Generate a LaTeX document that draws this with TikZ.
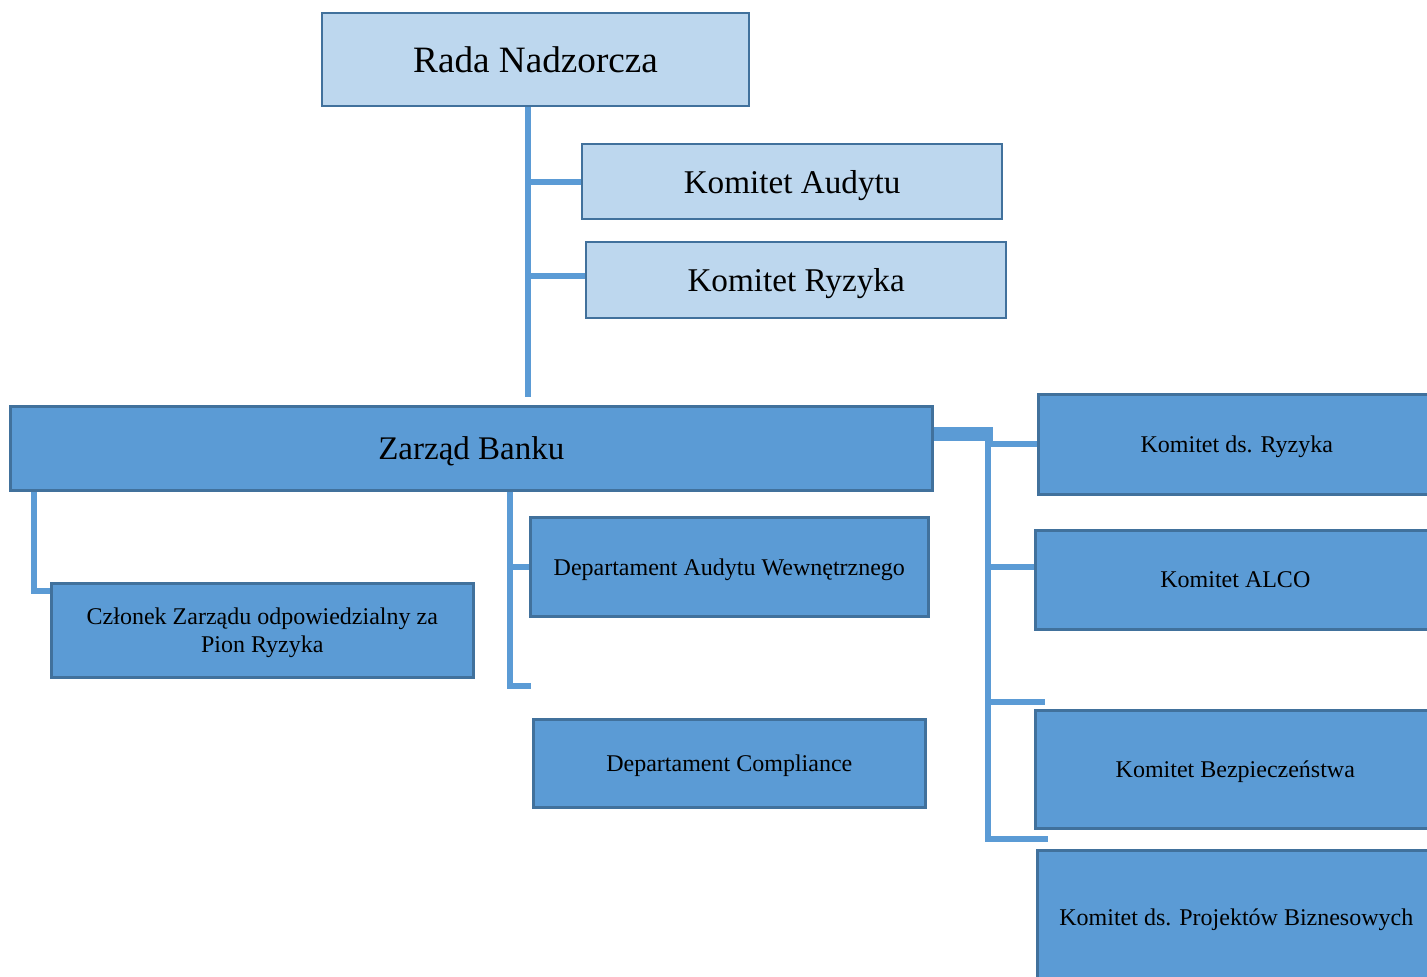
\documentclass[tikz,border=0pt]{standalone}
\usepackage{fontspec}
\setmainfont{Liberation Serif}
\definecolor{jasnyniebieski}{RGB}{189,215,238}
\definecolor{niebieski}{RGB}{91,155,213}
\definecolor{ramka}{RGB}{65,113,156}
\begin{document}
\begin{tikzpicture}[line cap=butt,line join=miter,x=0.5pt,y=-0.5pt,
  jasny/.style={draw=ramka,fill=jasnyniebieski,line width=1.1pt,anchor=north west,inner sep=0pt,align=center,text depth=0pt},
  ciemny/.style={draw=ramka,fill=niebieski,line width=1.3pt,anchor=north west,inner sep=0pt,align=center,text depth=0pt,font=\fontsize{12}{14}\selectfont},
  linia/.style={draw=niebieski,line width=3pt}]
\useasboundingbox (0,0) rectangle (1427,976);
\fill[white] (0,0) rectangle (1427,976);
\clip (0,0) rectangle (1427,976);
% rada i komitety rady
\node[jasny,minimum width=213.5pt,minimum height=46.5pt,font=\fontsize{18.6}{22}\selectfont] (rada) at (321,12) {Rada Nadzorcza};
\node[jasny,minimum width=210pt,minimum height=37.5pt,font=\fontsize{16.6}{20}\selectfont] (kaud) at (581,143) {Komitet Audytu};
\node[jasny,minimum width=210pt,minimum height=38pt,font=\fontsize{16.6}{20}\selectfont] (kryz) at (585,241) {Komitet Ryzyka};
% zarzad
\node[ciemny,minimum width=461pt,minimum height=42pt,font=\fontsize{16.5}{20}\selectfont] (zarzad) at (9,405) {Zarząd Banku};
\node[ciemny,minimum width=211pt,minimum height=47pt] (czlonek) at (50,582) {Członek Zarządu odpowiedzialny za\\Pion Ryzyka};
\node[ciemny,minimum width=199pt,minimum height=49.5pt] (daw) at (529,516) {Departament Audytu Wewnętrznego};
\node[ciemny,minimum width=196pt,minimum height=44pt] (dcomp) at (532,718) {Departament Compliance};
% komitety zarzadu
\node[ciemny,minimum width=198.5pt,minimum height=50pt] (kdsr) at (1037,393) {Komitet ds. Ryzyka};
\node[ciemny,minimum width=200pt,minimum height=49.5pt] (alco) at (1034,529) {Komitet ALCO};
\node[ciemny,minimum width=200pt,minimum height=59pt] (kbez) at (1034,709) {Komitet Bezpieczeństwa};
\node[ciemny,minimum width=199pt,minimum height=67pt] (kproj) at (1036,849) {Komitet ds. Projektów Biznesowych};
% polaczenia
\coordinate (pionA) at (528,397);
\draw[linia] (rada.south -| pionA) -- (pionA);
\draw[linia] (kaud.west -| pionA) -- (kaud.west);
\coordinate (kryzL) at (585,276);
\draw[linia] (kryzL -| pionA) -- (kryzL);
\coordinate (lewy) at (34,591);
\draw[linia] (lewy |- zarzad.south) -- (lewy) -- (lewy -| czlonek.west);
\coordinate (srodek) at (510,686);
\coordinate (srodekK) at (531,686);
\draw[linia] (srodek |- zarzad.south) -- (srodek) -- (srodekK);
\draw[linia] (srodek |- daw.west) -- (daw.west);
\coordinate (prawyG) at (993,434);
\draw[draw=niebieski,line width=7pt] (zarzad.east |- prawyG) -- (prawyG);
\coordinate (prawyD) at (988,842);
\draw[linia] (prawyD |- prawyG) -- (prawyD);
\draw[linia] (prawyD |- kdsr.west) -- (kdsr.west);
\coordinate (alcoL) at (1034,567);
\draw[linia] (prawyD |- alcoL) -- (alcoL);
\coordinate (stubA) at (1045,702);
\draw[linia] (prawyD |- stubA) -- (stubA);
\coordinate (stubB) at (1048,839);
\draw[linia] (prawyD |- stubB) -- (stubB);
\end{tikzpicture}
\end{document}
